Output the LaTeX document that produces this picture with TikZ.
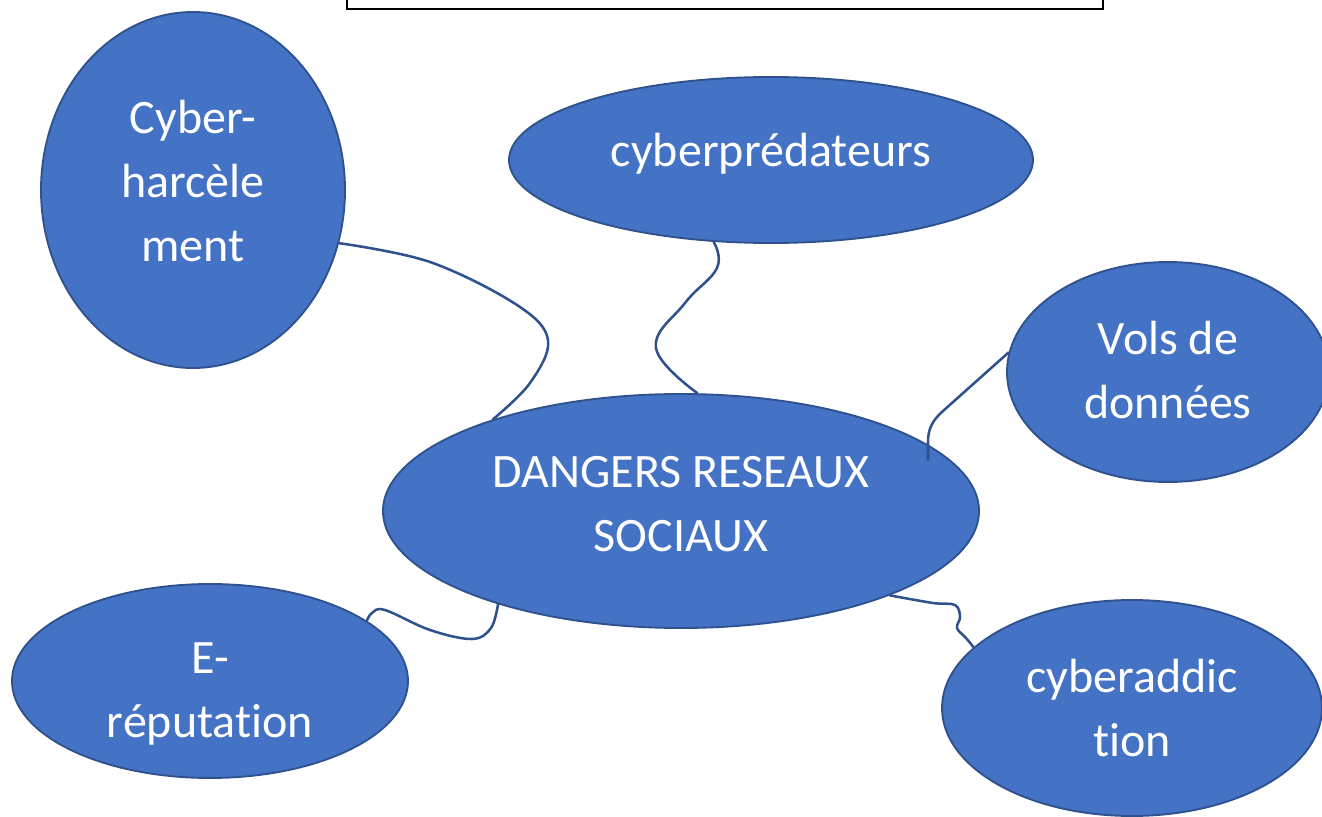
\documentclass[tikz,border=0pt]{standalone}
\usepackage{fontspec}
\setmainfont{Carlito}[Ligatures=NoCommon]
\usetikzlibrary{shapes.geometric}
\definecolor{bubblefill}{HTML}{4472C4}
\definecolor{bubbleline}{HTML}{2F528F}
\tikzset{
  bubble/.style={ellipse, draw=bubbleline, line width=1.4pt, fill=bubblefill, inner sep=0pt},
  words/.style={text=white, align=center, font=\fontsize{36}{48}\selectfont},
  link/.style={draw=bubbleline, line width=1.9pt, line cap=round}
}
\begin{document}
\begin{tikzpicture}[x=0.75pt,y=-0.75pt]
\useasboundingbox (0,0) rectangle (1322,817);
% frame at the top
\draw[line width=2.2pt] (347,-20) rectangle (1103,9);

\node[bubble, minimum width=228pt, minimum height=267pt,
  label={[words, yshift=7pt]center:Cyber-\\harcèle\\ment}] (harc) at (193,190) {};
\node[bubble, minimum width=393pt, minimum height=124.5pt,
  label={[words, yshift=4.5pt]center:cyberprédateurs}] (pred) at (771,160) {};
\node[bubble, minimum width=241.5pt, minimum height=165pt,
  label={[words, yshift=1.5pt]center:Vols de\\données}] (vols) at (1168,372) {};
\node[bubble, minimum width=447pt, minimum height=175.5pt,
  label={[words, yshift=5.5pt]center:DANGERS RESEAUX\\SOCIAUX}] (dangers) at (681,511) {};
\node[bubble, minimum width=297pt, minimum height=145.5pt,
  label={[words, yshift=-9.5pt]center:E-\\réputation}] (erep) at (210,681) {};
\node[bubble, minimum width=285pt, minimum height=162pt,
  label={[words]center:cyberaddic\\tion}] (addic) at (1132,708) {};

\coordinate (vend) at (928,460);

\draw[link] plot[smooth, tension=0.6] coordinates {(harc.-20) (430,262) (517,305) (548,340) (530,383) (dangers.154)};
\draw[link] plot[smooth, tension=0.7] coordinates {(pred.-125) (717,268) (685,303) (656,348) (dangers.82)};
\draw[link] (vols.173) -- (943,411) .. controls (933,420) and (928,428) .. (928,442) -- (vend);
\draw[link] plot[smooth, tension=0.6] coordinates {(erep.21) (372,613) (385,610) (430,630) (472,639) (491,628) (dangers.-153)};
\draw[link] plot[smooth, tension=0.6] coordinates {(dangers.-22) (933,603) (955,605) (960,617) (957,628) (966,638) (addic.159)};
\end{tikzpicture}
\end{document}
